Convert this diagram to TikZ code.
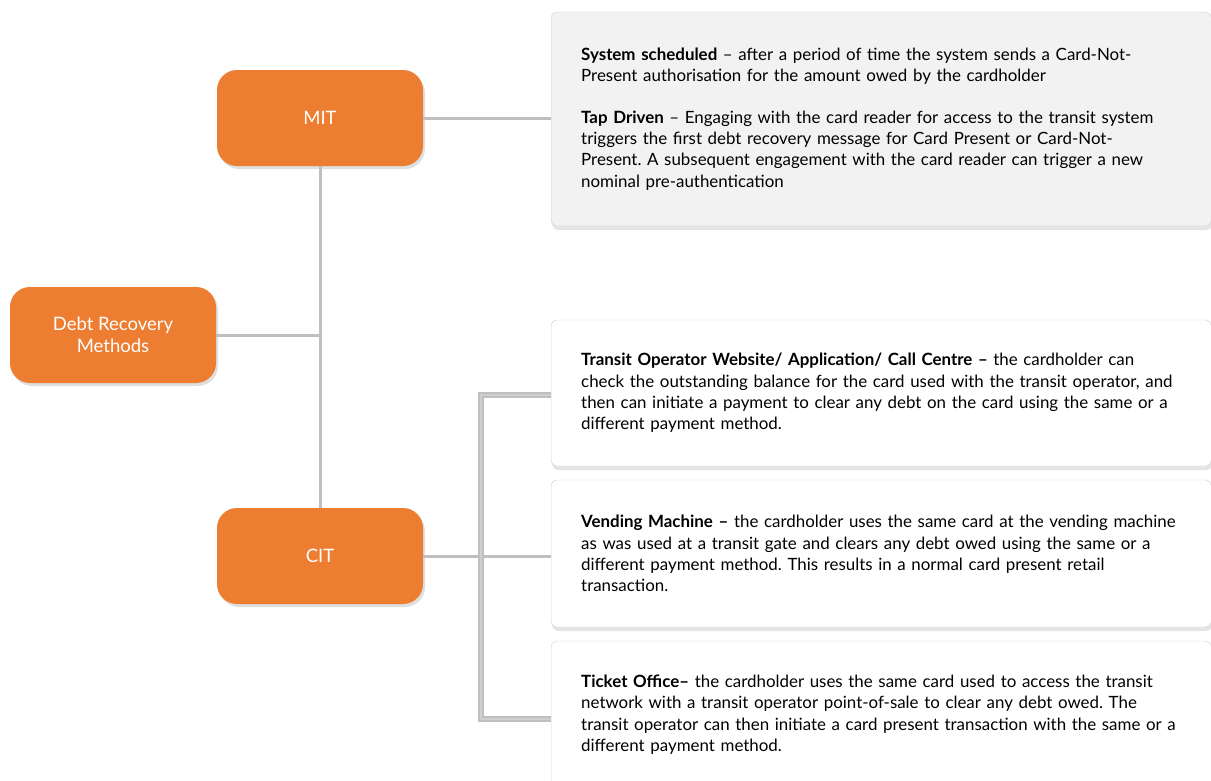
\documentclass[tikz,border=0pt]{standalone}
\usepackage{fontspec}
\setmainfont{Lato}
\frenchspacing
\usetikzlibrary{shadows}
\definecolor{recoveryorange}{HTML}{ED7D31}
\definecolor{linkgray}{HTML}{BFBFBF}
\definecolor{notegray}{HTML}{F2F2F2}
\tikzstyle{method} = [rectangle, rounded corners=20pt, minimum width=206pt, minimum height=96pt, align=center, fill=recoveryorange, text=white, font=\fontsize{18.5}{21.5}\selectfont, drop shadow={opacity=0.25, shadow xshift=2pt, shadow yshift=-3pt}]
\tikzstyle{note} = [rectangle, rounded corners=6pt, draw=gray!35, fill=white, text width=600pt, inner xsep=30pt, inner ysep=0pt, align=left, anchor=west, font=\fontsize{16.9}{21.3}\selectfont, drop shadow={opacity=0.2, shadow xshift=1pt, shadow yshift=-4pt}]
\tikzstyle{link} = [line width=3pt, draw=linkgray]
\tikzstyle{bracket} = [line width=1.4pt, draw=linkgray, double=linkgray!75, double distance=2.5pt]

\begin{document}
\begin{tikzpicture}[x=1pt, y=-1pt]
    \path [use as bounding box, fill=white] (0,0) rectangle (1211,780);

    \node (debt) [method] at (113,335) {Debt Recovery\\Methods};
    \node (mit)  [method] at (320,118) {MIT};
    \node (cit)  [method] at (320,556) {CIT};

    \node (sys) [note, fill=notegray, minimum height=214pt] at (551,119)
        {\textbf{System scheduled} – after a period of time the system sends a Card-Not-\\
         Present authorisation for the amount owed by the cardholder\\[20pt]
         \textbf{Tap Driven} – Engaging with the card reader for access to the transit system\\
         triggers the first debt recovery message for Card Present or Card-Not-\\
         Present. A subsequent engagement with the card reader can trigger a new\\
         nominal pre-authentication};
    \node (web) [note, minimum height=146pt] at (551,393)
        {\textbf{Transit Operator Website/ Application/ Call Centre –} the cardholder can\\
         check the outstanding balance for the card used with the transit operator, and\\
         then can initiate a payment to clear any debt on the card using the same or a\\
         different payment method.};
    \node (vend) [note, minimum height=147pt] at (551,553.5)
        {\textbf{Vending Machine –} the cardholder uses the same card at the vending machine\\
         as was used at a transit gate and clears any debt owed using the same or a\\
         different payment method. This results in a normal card present retail\\
         transaction.};
    \node (ticket) [note, minimum height=147pt] at (551,714.5)
        {\textbf{Ticket Office–} the cardholder uses the same card used to access the transit\\
         network with a transit operator point-of-sale to clear any debt owed. The\\
         transit operator can then initiate a card present transaction with the same or a\\
         different payment method.};

    \coordinate (btop) at (481,395);
    \coordinate (bbot) at (481,719);

    \draw [link] (mit.south) -- (cit.north);
    \draw [link] (debt.east) -- (debt.east -| mit.south);
    \draw [link] (mit.east) -- (mit.east -| sys.west);
    \draw [link] (cit.east) -- (cit.east -| vend.west);
    \draw [bracket] (web.west |- btop) -- (btop) -- (bbot) -- (ticket.west |- bbot);
\end{tikzpicture}
\end{document}
